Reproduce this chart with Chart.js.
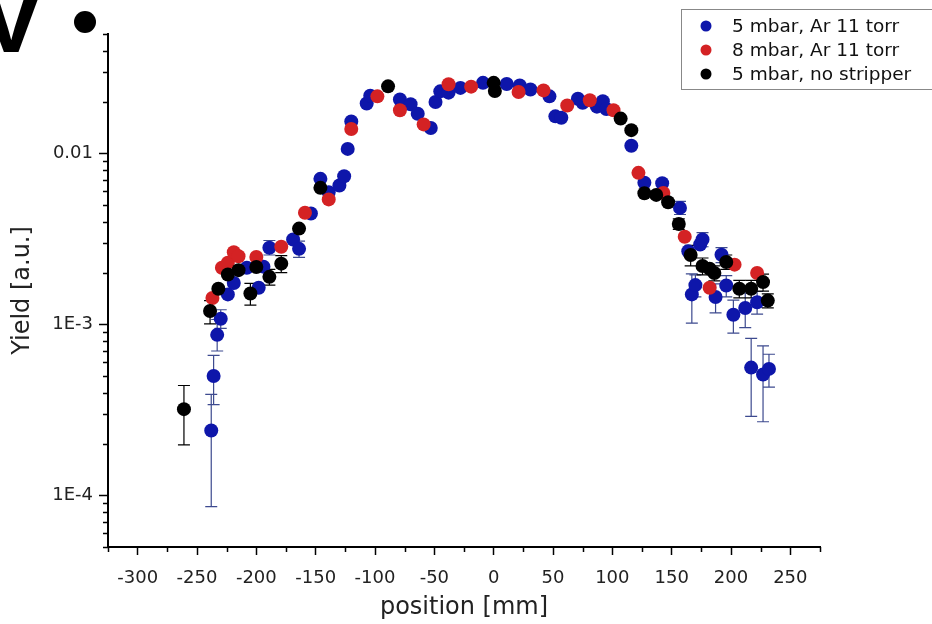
<!DOCTYPE html>
<html>
<head>
<meta charset="utf-8">
<script src="https://cdn.jsdelivr.net/npm/chart.js@4"></script>
<style>
	html, body { margin: 0; padding: 0; background: #fff; }
	#wrap { width: 932px; height: 624px; }
</style>
</head>
<body>
<div id="wrap"><canvas id="myChart" width="932" height="624"></canvas></div>
<script>
// 5 mbar, Ar 11 torr
const blueX  = [-238, -236, -233, -230, -224, -219, -208, -198, -194, -189, -169, -164, -154, -146, -139, -130, -126, -123, -120, -107, -104, -79, -70, -64, -53, -49, -45, -38, -28, -9, 11, 22, 31, 47, 52, 57, 71, 75, 87, 92, 95, 116, 127, 142, 157, 164, 167, 170, 174, 176, 187, 192, 196, 202, 212, 217, 222, 227, 232];
const blueY  = [2.4e-4, 5.0e-4, 8.7e-4, 1.08e-3, 1.5e-3, 1.75e-3, 2.15e-3, 1.64e-3, 2.18e-3, 2.81e-3, 3.14e-3, 2.77e-3, 4.46e-3, 7.11e-3, 5.94e-3, 6.5e-3, 7.36e-3, 1.064e-2, 1.54e-2, 1.96e-2, 2.18e-2, 2.07e-2, 1.94e-2, 1.71e-2, 1.41e-2, 2.0e-2, 2.31e-2, 2.27e-2, 2.42e-2, 2.59e-2, 2.55e-2, 2.5e-2, 2.37e-2, 2.16e-2, 1.65e-2, 1.62e-2, 2.09e-2, 1.98e-2, 1.88e-2, 2.02e-2, 1.82e-2, 1.11e-2, 6.74e-3, 6.7e-3, 4.81e-3, 2.68e-3, 1.5e-3, 1.7e-3, 2.94e-3, 3.14e-3, 1.45e-3, 2.56e-3, 1.69e-3, 1.14e-3, 1.25e-3, 5.6e-4, 1.35e-3, 5.1e-4, 5.5e-4];
const blueLo = [8.6e-5, 3.4e-4, 7.0e-4, 9.5e-4, null, null, null, null, null, 2.55e-3, null, 2.47e-3, null, null, null, null, null, null, null, null, null, null, null, null, null, null, null, null, null, null, null, null, null, null, null, null, null, null, null, null, null, null, null, null, 4.4e-3, null, 1.02e-3, 1.45e-3, null, 2.85e-3, 1.17e-3, 2.3e-3, 1.45e-3, 8.9e-4, 9.6e-4, 2.9e-4, 1.15e-3, 2.7e-4, 4.3e-4];
const blueHi = [3.9e-4, 6.6e-4, 1.07e-3, 1.22e-3, null, null, null, null, null, 3.1e-3, null, 3.07e-3, null, null, null, null, null, null, null, null, null, null, null, null, null, null, null, null, null, null, null, null, null, null, null, null, null, null, null, null, null, null, null, null, 5.25e-3, null, 1.98e-3, 1.95e-3, null, 3.45e-3, 1.73e-3, 2.82e-3, 1.93e-3, 1.39e-3, 1.53e-3, 8.3e-4, 1.56e-3, 7.5e-4, 6.7e-4];

// 8 mbar, Ar 11 torr
const redX = [-237, -229, -224, -219, -215, -200, -179, -159, -139, -120, -98, -79, -59, -38, -19, 21, 42, 62, 81, 101, 122, 143, 161, 182, 203, 222];
const redY = [1.43e-3, 2.15e-3, 2.3e-3, 2.65e-3, 2.51e-3, 2.48e-3, 2.85e-3, 4.5e-3, 5.39e-3, 1.39e-2, 2.16e-2, 1.79e-2, 1.48e-2, 2.54e-2, 2.46e-2, 2.29e-2, 2.34e-2, 1.91e-2, 2.05e-2, 1.79e-2, 7.71e-3, 5.88e-3, 3.26e-3, 1.64e-3, 2.24e-3, 2.0e-3];

// 5 mbar, no stripper
const blackX  = [-261, -239, -232, -224, -215, -205, -200, -189, -179, -164, -146, -89, 0, 1, 107, 116, 127, 137, 147, 156, 166, 176, 182, 186, 196, 207, 217, 227, 231];
const blackY  = [3.2e-4, 1.2e-3, 1.62e-3, 1.96e-3, 2.08e-3, 1.52e-3, 2.17e-3, 1.9e-3, 2.27e-3, 3.64e-3, 6.3e-3, 2.47e-2, 2.59e-2, 2.32e-2, 1.6e-2, 1.37e-2, 5.86e-3, 5.73e-3, 5.19e-3, 3.87e-3, 2.55e-3, 2.2e-3, 2.12e-3, 2.0e-3, 2.32e-3, 1.62e-3, 1.62e-3, 1.77e-3, 1.38e-3];
const blackLo = [1.98e-4, 1.01e-3, null, null, null, 1.3e-3, null, 1.7e-3, 2.01e-3, null, null, null, null, null, null, null, null, null, null, 3.6e-3, 2.2e-3, 1.95e-3, null, 1.8e-3, 2.1e-3, 1.43e-3, 1.43e-3, 1.57e-3, 1.25e-3];
const blackHi = [4.4e-4, 1.38e-3, null, null, null, 1.74e-3, null, 2.1e-3, 2.53e-3, null, null, null, null, null, null, null, null, null, null, 4.15e-3, 2.9e-3, 2.45e-3, null, 2.2e-3, 2.55e-3, 1.81e-3, 1.81e-3, 1.97e-3, 1.51e-3];

const seriesNames = ['5 mbar, Ar 11 torr', '8 mbar, Ar 11 torr', '5 mbar, no stripper'];
const xTicks = [-300, -250, -200, -150, -100, -50, 0, 50, 100, 150, 200, 250];
const yTicks = [1e-4, 1e-3, 1e-2];
const yTickLabels = ['1E-4', '1E-3', '0.01'];

const FONT = 'DejaVu Sans, Verdana, sans-serif';

function pts(xs, ys)
{
	return xs.map((x, i) => ({ x: x, y: ys[i] }));
}

// 誤差棒
const errorBars = {
	id: 'errorBars',
	beforeDatasetsDraw(chart)
	{
		const ctx = chart.ctx;
		const xs = chart.scales.x, ys = chart.scales.y;
		chart.data.datasets.forEach(ds => {
			if (!ds.errLo) return;
			ctx.save();
			ctx.strokeStyle = ds.errColor;
			ctx.lineWidth = 1.2;
			ds.data.forEach((p, i) => {
				if (ds.errLo[i] == null) return;
				const px = xs.getPixelForValue(p.x);
				const y1 = ys.getPixelForValue(ds.errLo[i]);
				const y2 = ys.getPixelForValue(ds.errHi[i]);
				ctx.beginPath();
				ctx.moveTo(px, y1); ctx.lineTo(px, y2);
				ctx.moveTo(px - 6, y1); ctx.lineTo(px + 6, y1);
				ctx.moveTo(px - 6, y2); ctx.lineTo(px + 6, y2);
				ctx.stroke();
			});
			ctx.restore();
		});
	}
};

// 副目盛、凡例、左上の文字
const decor = {
	id: 'decor',
	afterDraw(chart)
	{
		const ctx = chart.ctx;
		const xs = chart.scales.x, ys = chart.scales.y;
		const area = chart.chartArea;
		ctx.save();
		ctx.strokeStyle = '#000';
		ctx.lineWidth = 1.5;
		ctx.beginPath();
		for (let v = xs.min; v <= xs.max; v += 25)
		{
			if (v % 50 === 0) continue;
			const px = Math.round(xs.getPixelForValue(v)) + 0.5;
			ctx.moveTo(px, area.bottom); ctx.lineTo(px, area.bottom + 5);
		}
		for (let d = 1e-5; d < 1; d *= 10)
		{
			for (let m = 2; m <= 9; m++)
			{
				const v = d * m;
				if (v < ys.min || v > ys.max * 1.0001) continue;
				const py = Math.round(ys.getPixelForValue(v)) + 0.5;
				ctx.moveTo(area.left, py); ctx.lineTo(area.left - 5, py);
			}
		}
		ctx.stroke();

		// 凡例
		ctx.fillStyle = '#fff';
		ctx.fillRect(681, 9, 260, 80);
		ctx.strokeStyle = '#888';
		ctx.lineWidth = 1;
		ctx.strokeRect(681.5, 9.5, 260, 80);
		ctx.font = '18.5px ' + FONT;
		ctx.textBaseline = 'middle';
		chart.data.datasets.forEach((ds, i) => {
			const y = 26 + i * 24;
			ctx.fillStyle = ds.backgroundColor;
			ctx.beginPath();
			ctx.arc(706, y, 5.5, 0, Math.PI * 2);
			ctx.fill();
			ctx.fillStyle = '#111';
			ctx.fillText(ds.label, 732, y + 1);
		});

		// 左上（切れた見出し）
		ctx.fillStyle = '#000';
		ctx.font = 'bold 100px Liberation Sans, Arial, sans-serif';
		ctx.textAlign = 'center';
		ctx.textBaseline = 'alphabetic';
		ctx.fillText('V', 11, 52);
		ctx.beginPath();
		ctx.arc(85, 22, 11, 0, Math.PI * 2);
		ctx.fill();
		ctx.restore();
	}
};

const ctx = document.getElementById('myChart').getContext('2d');
const myChart = new Chart(ctx, {
	type: 'scatter',
	data: {
		datasets: [
		{
			label: seriesNames[0],
			data: pts(blueX, blueY),
			errLo: blueLo, errHi: blueHi, errColor: '#3d4a8f',
			backgroundColor: 'rgb(14, 22, 170)',
			borderWidth: 0,
			pointRadius: 7,
			order: 2
		},
		{
			label: seriesNames[1],
			data: pts(redX, redY),
			backgroundColor: 'rgb(212, 34, 36)',
			borderWidth: 0,
			pointRadius: 7,
			order: 1
		},
		{
			label: seriesNames[2],
			data: pts(blackX, blackY),
			errLo: blackLo, errHi: blackHi, errColor: '#000',
			backgroundColor: '#000',
			borderWidth: 0,
			pointRadius: 7,
			order: 0
		}]
	},
	options: {
		responsive: false,
		animation: false,
		layout: { padding: { left: 0, top: 34, right: 112, bottom: 0 } },
		plugins: {
			legend: { display: false },
			tooltip: { enabled: false }
		},
		scales: {
			x: {
				type: 'linear',
				min: -325,
				max: 275,
				afterBuildTicks: s => { s.ticks = xTicks.map(v => ({ value: v })); },
				afterFit: s => { s.height = 77; },
				grid: { display: true, drawOnChartArea: false, drawTicks: true, tickLength: 8, tickWidth: 1.5, tickColor: '#000' },
				border: { display: true, color: '#000', width: 2 },
				ticks: { autoSkip: false, maxRotation: 0, padding: 13, color: '#222', font: { family: FONT, size: 18 } },
				title: { display: true, text: 'position [mm]', color: '#222', font: { family: FONT, size: 24 }, padding: { top: 0, bottom: 2 } }
			},
			y: {
				type: 'logarithmic',
				min: 5e-5,
				max: 0.05,
				afterBuildTicks: s => { s.ticks = yTicks.map(v => ({ value: v })); },
				afterFit: s => { s.width = 108; },
				grid: { display: true, drawOnChartArea: false, drawTicks: true, tickLength: 9, tickWidth: 1.5, tickColor: '#000' },
				border: { display: true, color: '#000', width: 2 },
				ticks: {
					autoSkip: false,
					padding: 6,
					color: '#222',
					font: { family: FONT, size: 18 },
					callback: v => yTickLabels[yTicks.indexOf(v)]
				},
				title: { display: true, text: 'Yield [a.u.]', color: '#222', font: { family: FONT, size: 24 }, padding: { top: 8, bottom: 0 } }
			}
		}
	},
	plugins: [errorBars, decor]
});
</script>
</body>
</html>
